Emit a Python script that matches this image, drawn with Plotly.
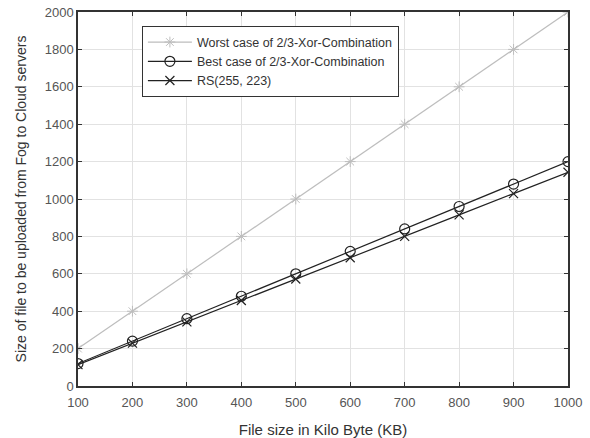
import plotly.graph_objects as go

file_size = [100, 200, 300, 400, 500, 600, 700, 800, 900, 1000]
worst_case = [200, 400, 600, 800, 1000, 1200, 1400, 1600, 1800, 2000]
best_case = [120, 240, 360, 480, 600, 720, 840, 960, 1080, 1200]
rs_255_223 = [114, 229, 343, 457, 572, 686, 800, 915, 1029, 1143]

fig = go.Figure()
fig.add_trace(go.Scatter(
    x=file_size, y=worst_case, mode="lines+markers",
    name="Worst case of 2/3-Xor-Combination",
    line=dict(color="#bdbdbd", width=1.2),
    marker=dict(symbol="asterisk-open", size=9, color="#bdbdbd", line=dict(width=1, color="#bdbdbd")),
))
fig.add_trace(go.Scatter(
    x=file_size, y=best_case, mode="lines+markers",
    name="Best case of 2/3-Xor-Combination",
    line=dict(color="#222222", width=1.2),
    marker=dict(symbol="circle-open", size=10, color="#222222", line=dict(width=1.2, color="#222222")),
))
fig.add_trace(go.Scatter(
    x=file_size, y=rs_255_223, mode="lines+markers",
    name="RS(255, 223)",
    line=dict(color="#222222", width=1.2),
    marker=dict(symbol="x-thin-open", size=9, color="#222222", line=dict(width=1.2, color="#222222")),
))

axis_common = dict(
    showline=True, linecolor="#333333", linewidth=1.5, mirror="ticks",
    ticks="inside", ticklen=4, tickcolor="#333333",
    showgrid=True, gridcolor="#e2e2e2", gridwidth=1,
    zeroline=False, automargin=False,
    tickfont=dict(family="Liberation Sans, Arial", size=13, color="#555555"),
)

fig.update_layout(
    width=590, height=438,
    margin=dict(l=78, r=22, t=12, b=52),
    paper_bgcolor="white", plot_bgcolor="white",
    font=dict(family="Liberation Sans, Arial", color="#333333"),
    showlegend=True,
    legend=dict(
        x=0.13, y=0.962, xanchor="left", yanchor="top",
        bgcolor="white", bordercolor="#333333", borderwidth=1.2,
        font=dict(family="Liberation Sans, Arial", size=12.5, color="#333333"),
        tracegroupgap=0, itemwidth=44,
    ),
    xaxis=dict(
        range=[100, 1000], tickmode="array",
        tickvals=[100, 200, 300, 400, 500, 600, 700, 800, 900, 1000],
        ticklabelstandoff=4,
        title=dict(text="File size in Kilo Byte (KB)", font=dict(size=15, color="#333333"), standoff=20),
        **axis_common,
    ),
    yaxis=dict(
        range=[0, 2000], tickmode="array",
        tickvals=[0, 200, 400, 600, 800, 1000, 1200, 1400, 1600, 1800, 2000],
        title=dict(text="Size of file to be uploaded from Fog to Cloud servers", font=dict(size=14, color="#333333"), standoff=15),
        **axis_common,
    ),
)

fig.write_html("out.html", config={"displayModeBar": False},
               post_script="document.body.style.margin='0px';")
